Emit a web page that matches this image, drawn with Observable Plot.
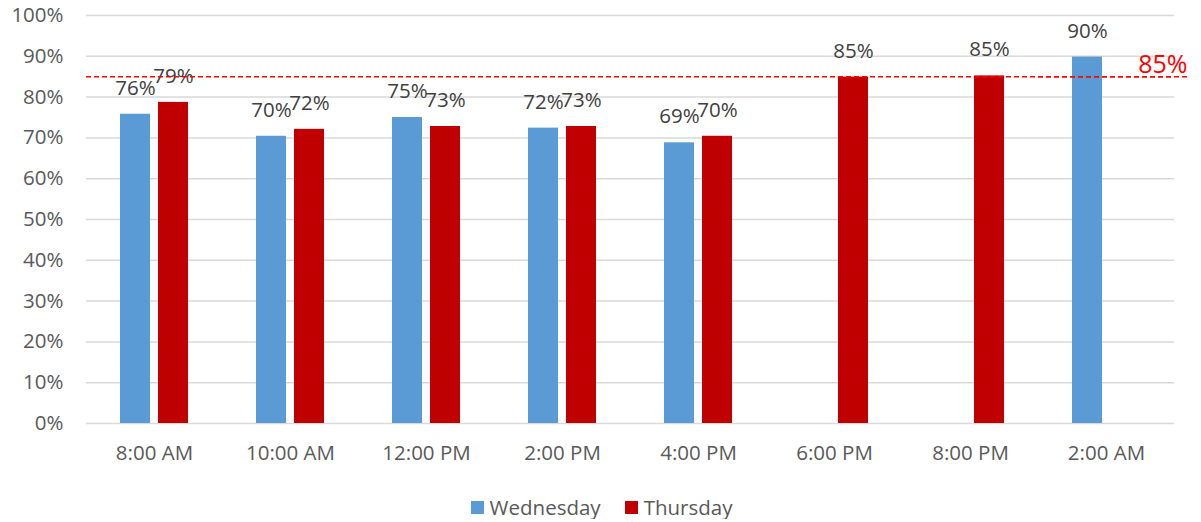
<!DOCTYPE html>
<html>
<head>
<meta charset="utf-8">
<script src="https://cdn.jsdelivr.net/npm/d3@7"></script>
<script src="https://cdn.jsdelivr.net/npm/@observablehq/plot@0.6"></script>
<style>
  html, body { margin: 0; padding: 0; background: #fff; }
  #chart svg { display: block; }
  .legend { display: flex; justify-content: center; align-items: center; margin-top: 20px; font-family: "Open Sans", sans-serif; font-size: 20.5px; color: #595959; line-height: 24px; padding-left: 2px; }
  .legend .item { display: flex; align-items: center; margin: 0 12px; }
  .legend .sw { width: 13px; height: 13px; margin-right: 6px; }
</style>
</head>
<body>
<div id="chart"></div>
<script>
const times = ["8:00 AM", "10:00 AM", "12:00 PM", "2:00 PM", "4:00 PM", "6:00 PM", "8:00 PM", "2:00 AM"];
const series = ["Wednesday", "Thursday"];
const wednesday = [75.8, 70.4, 75.0, 72.4, 68.8, null, null, 89.8];
const thursday = [78.7, 72.1, 72.8, 72.8, 70.4, 84.9, 85.2, null];
const colors = ["#5B9BD5", "#C00000"];
const yTicks = [0, 10, 20, 30, 40, 50, 60, 70, 80, 90, 100];
const target = 85;

const values = {Wednesday: wednesday, Thursday: thursday};
const rows = [];
times.forEach((t, i) => {
  series.forEach(s => {
    const v = values[s][i];
    if (v != null) rows.push({time: t, day: s, value: v});
  });
});
const lastTarget = [{time: times[times.length - 1], value: target}];

const chart = Plot.plot({
  width: 1201,
  height: 475,
  marginLeft: 85,
  marginRight: 27,
  marginTop: 15,
  marginBottom: 52,
  style: {fontFamily: "Open Sans, sans-serif", fontSize: "20px", background: "#fff"},
  fx: {domain: times, padding: 0, label: null},
  x: {domain: series, paddingInner: 0.208, paddingOuter: 0.87, axis: null},
  y: {domain: [0, 100], label: null},
  color: {domain: series, range: colors},
  marks: [
    Plot.gridY(yTicks, {stroke: "#d9d9d9", strokeOpacity: 1, strokeWidth: 1.5}),
    Plot.axisY(yTicks, {tickFormat: d => d + "%", tickSize: 0, tickPadding: 23, fontSize: 20.5, fill: "#595959", label: null}),
    Plot.axisFx({anchor: "bottom", tickSize: 0, tickPadding: 22, fontSize: 20.5, fill: "#595959", label: null}),
    Plot.barY(rows, {fx: "time", x: "day", y: "value", fill: "day"}),
    Plot.text(rows, {fx: "time", x: "day", y: "value", text: d => Math.round(d.value) + "%", dy: -26, fontSize: 20.5, fill: "#404040"}),
    Plot.ruleY([target], {stroke: "#ff0000", strokeWidth: 1.5, strokeDasharray: "5,3"}),
    Plot.ruleY(lastTarget, {fx: "time", y: "value", stroke: "#ff0000", strokeWidth: 1.5, strokeDasharray: "5,3", insetRight: -14}),
    Plot.text(lastTarget, {fx: "time", y: "value", text: d => d.value + "%", frameAnchor: "right", textAnchor: "end", dx: 13, dy: -12, fontSize: 25, fill: "#ff0000"})
  ]
});
document.getElementById("chart").appendChild(chart);

const legend = document.createElement("div");
legend.className = "legend";
series.forEach((s, i) => {
  const item = document.createElement("div");
  item.className = "item";
  const sw = document.createElement("span");
  sw.className = "sw";
  sw.style.background = colors[i];
  const label = document.createElement("span");
  label.textContent = s;
  item.appendChild(sw);
  item.appendChild(label);
  legend.appendChild(item);
});
document.getElementById("chart").appendChild(legend);
</script>
</body>
</html>
